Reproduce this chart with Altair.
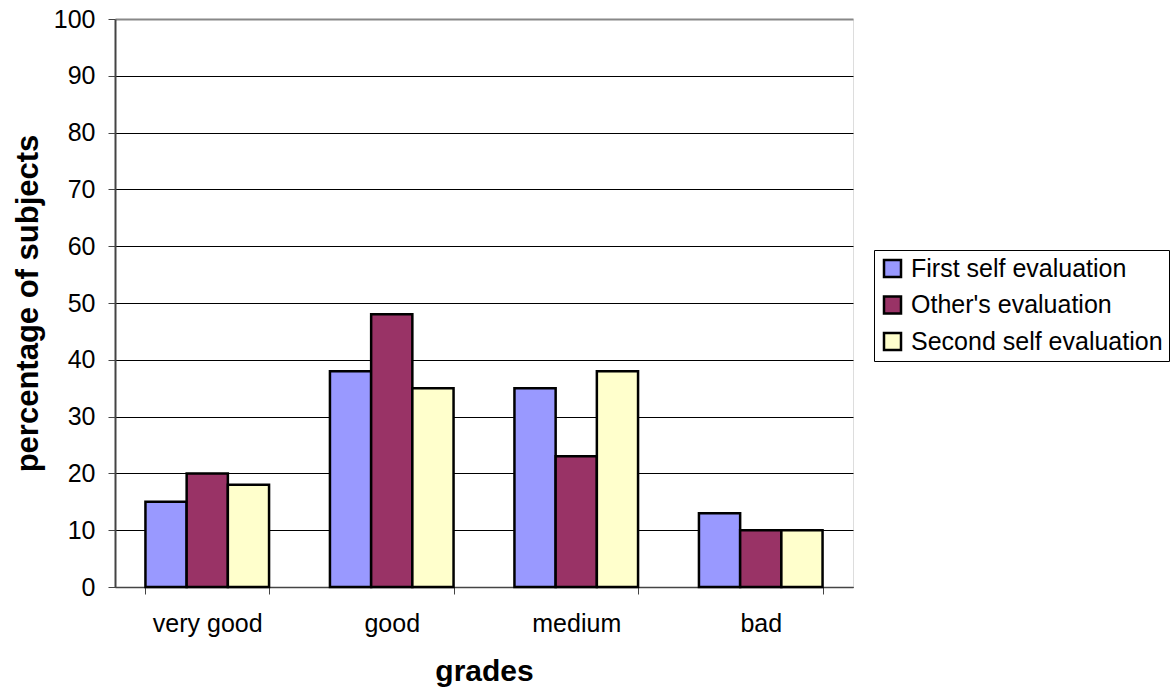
import altair as alt
import pandas as pd

# Grade categories and the three evaluation series (percent of subjects)
grades = ["very good", "good", "medium", "bad"]
series = ["First self evaluation", "Other's evaluation", "Second self evaluation"]
first_self = [15, 38, 35, 13]
others = [20, 48, 23, 10]
second_self = [18, 35, 38, 10]
colors = ["#9999FF", "#993366", "#FFFFCC"]
y_ticks = [0, 10, 20, 30, 40, 50, 60, 70, 80, 90, 100]

rows = []
for name, vals in zip(series, [first_self, others, second_self]):
    for g, v in zip(grades, vals):
        rows.append({"grade": g, "series": name, "value": v})
df = pd.DataFrame(rows)

FONT = "Liberation Sans"

chart = alt.Chart(df).mark_bar(stroke="black", strokeWidth=2.5).encode(
    x=alt.X(
        "grade:N",
        sort=grades,
        scale=alt.Scale(paddingInner=0.33, paddingOuter=0.165),
        axis=alt.Axis(
            title="grades",
            labelAngle=0,
            tickBand="extent",
            tickSize=7,
            tickColor="#444444",
            domainColor="#444444",
            domainWidth=1.5,
            labelFont=FONT,
            labelFontSize=25,
            labelColor="black",
            labelPadding=17,
            titleFont=FONT,
            titleFontSize=30,
            titleFontWeight="bold",
            titleColor="black",
            titleBaseline="alphabetic",
            titleY=93,
            grid=False,
        ),
    ),
    xOffset=alt.XOffset("series:N", sort=series),
    y=alt.Y(
        "value:Q",
        scale=alt.Scale(domain=[0, 100], nice=False),
        axis=alt.Axis(
            title="percentage of subjects",
            values=y_ticks,
            tickSize=7,
            tickColor="#444444",
            domainColor="#444444",
            domainWidth=2,
            labelFont=FONT,
            labelFontSize=25,
            labelColor="black",
            labelPadding=13,
            titleFont=FONT,
            titleFontSize=31,
            titleFontWeight="bold",
            titleColor="black",
            titleBaseline="alphabetic",
            titleX=-78,
            grid=True,
            gridColor={"condition": {"test": "datum.value == 100", "value": "#888888"}, "value": "black"},
            gridWidth={"condition": {"test": "datum.value == 100", "value": 2}, "value": 1},
        ),
    ),
    color=alt.Color(
        "series:N",
        sort=series,
        scale=alt.Scale(domain=series, range=colors),
        legend=alt.Legend(
            title=None,
            orient="none",
            legendX=759,
            legendY=231,
            strokeColor="black",
            fillColor="white",
            padding=6,
            symbolType="square",
            symbolSize=289,
            symbolStrokeColor="black",
            symbolStrokeWidth=2.5,
            labelFont=FONT,
            labelFontSize=25,
            labelColor="black",
            labelOffset=6,
            labelLimit=0,
            rowPadding=9.5,
        ),
    ),
).properties(
    width=738,
    height=568,
    autosize=alt.AutoSizeParams(type="none"),
    padding={"left": 115, "top": 19, "right": 318, "bottom": 103},
).configure_view(
    stroke="#888888",
    strokeWidth=2,
).configure(
    background="white",
)

chart.save("out.html", embed_options={"renderer": "svg", "actions": False})
